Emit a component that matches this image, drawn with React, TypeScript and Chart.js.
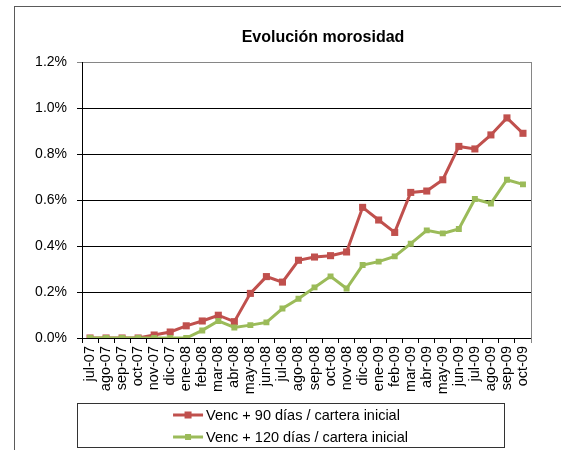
import React, { useEffect, useRef } from "react";
import { Chart, registerables } from "chart.js";

Chart.register(...registerables);

const categories = [
  "jul-07", "ago-07", "sep-07", "oct-07", "nov-07", "dic-07",
  "ene-08", "feb-08", "mar-08", "abr-08", "may-08", "jun-08",
  "jul-08", "ago-08", "sep-08", "oct-08", "nov-08", "dic-08",
  "ene-09", "feb-09", "mar-09", "abr-09", "may-09", "jun-09",
  "jul-09", "ago-09", "sep-09", "oct-09",
];

// values in percent
const venc90 = [
  0.0, 0.0, 0.0, 0.0, 0.013, 0.026,
  0.053, 0.074, 0.099, 0.071, 0.194, 0.267,
  0.243, 0.338, 0.352, 0.358, 0.374, 0.568,
  0.513, 0.459, 0.633, 0.639, 0.688, 0.833,
  0.822, 0.883, 0.957, 0.89,
];

const venc120 = [
  0.0, 0.0, 0.0, 0.0, 0.0, 0.0,
  0.0, 0.033, 0.074, 0.046, 0.056, 0.068,
  0.128, 0.171, 0.22, 0.268, 0.215, 0.317,
  0.332, 0.355, 0.41, 0.468, 0.455, 0.474,
  0.604, 0.585, 0.688, 0.668,
];

const seriesLabels = [
  "Venc + 90 días / cartera inicial",
  "Venc + 120 días / cartera inicial",
];
const titleText = "Evolución morosidad";
const yMax = 1.2;
const yStep = 0.2;

const RED = "#C0504D";
const GREEN = "#9BBB59";
const FONT = "'Liberation Sans', Arial, sans-serif";

const framePlugin = {
  id: "frame",
  beforeDraw(chart: any) {
    const ctx = chart.ctx;
    ctx.save();
    ctx.strokeStyle = "#5a5a5a";
    ctx.lineWidth = 1;
    ctx.strokeRect(14.5, 6.5, 800, 800);
    ctx.restore();
  },
  afterDraw(chart: any) {
    const ctx = chart.ctx;
    const a = chart.chartArea;
    ctx.save();
    // right plot border
    ctx.strokeStyle = "#868686";
    ctx.lineWidth = 1;
    ctx.beginPath();
    ctx.moveTo(Math.round(a.right) + 0.5, a.top);
    ctx.lineTo(Math.round(a.right) + 0.5, a.bottom + 5);
    ctx.stroke();

    // title
    ctx.fillStyle = "#000";
    ctx.font = `bold 16px ${FONT}`;
    ctx.textAlign = "center";
    ctx.textBaseline = "middle";
    ctx.fillText(titleText, 323, 38);

    // legend
    const boxL = 77, boxT = 403, boxW = 427, boxH = 44;
    ctx.strokeStyle = "#333";
    ctx.strokeRect(boxL + 0.5, boxT + 0.5, boxW, boxH);
    ctx.font = `14.5px ${FONT}`;
    ctx.textAlign = "left";
    const widths = chart.data.datasets.map((d: any) => ctx.measureText(d.label).width);
    const maxW = Math.max(...widths) + 33;
    const x0 = boxL + boxW / 2 - maxW / 2;
    chart.data.datasets.forEach((d: any, i: number) => {
      const y = boxT + 12 + i * 22;
      ctx.strokeStyle = d.borderColor;
      ctx.lineWidth = 3;
      ctx.beginPath();
      ctx.moveTo(x0, y);
      ctx.lineTo(x0 + 30, y);
      ctx.stroke();
      ctx.fillStyle = d.borderColor;
      const s = i === 0 ? 7 : 6;
      ctx.fillRect(x0 + 15 - s / 2, y - s / 2, s, s);
      ctx.fillStyle = "#000";
      ctx.fillText(d.label, x0 + 33, y + 1);
    });
    ctx.restore();
  },
};

export default function App() {
  const ref = useRef<HTMLCanvasElement | null>(null);

  useEffect(() => {
    if (!ref.current) return;
    const chart = new Chart(ref.current, {
      type: "line",
      data: {
        labels: categories,
        datasets: [
          {
            label: seriesLabels[0],
            data: venc90,
            borderColor: RED,
            backgroundColor: RED,
            borderWidth: 3,
            pointStyle: "rect",
            pointRadius: 5,
            pointBorderWidth: 0,
            tension: 0,
            order: 1,
          },
          {
            label: seriesLabels[1],
            data: venc120,
            borderColor: GREEN,
            backgroundColor: GREEN,
            borderWidth: 3,
            pointStyle: "rect",
            pointRadius: 4.2,
            pointBorderWidth: 0,
            tension: 0,
            order: 0,
          },
        ],
      },
      options: {
        animation: false,
        responsive: false,
        maintainAspectRatio: false,
        layout: { padding: { top: 62, left: 0, right: 30, bottom: 47 } },
        plugins: {
          legend: { display: false },
          title: { display: false },
          tooltip: { enabled: false },
        },
        scales: {
          x: {
            type: "category",
            offset: true,
            afterFit: (s: any) => { s.height = 65; },
            grid: {
              offset: true,
              drawOnChartArea: false,
              drawTicks: true,
              tickLength: 5,
              color: "#000",
            },
            border: { display: true, color: "#000", width: 1 },
            ticks: {
              minRotation: 90,
              maxRotation: 90,
              autoSkip: false,
              padding: 3,
              color: "#000",
              font: { family: FONT, size: 14.5 },
            },
          },
          y: {
            min: 0,
            max: yMax,
            afterFit: (s: any) => { s.width = 82; },
            ticks: {
              stepSize: yStep,
              padding: 10,
              color: "#000",
              font: { family: FONT, size: 14 },
              callback: (v: any) => Number(v).toFixed(1) + "%",
            },
            grid: {
              tickLength: 5,
              color: (c: any) => (c.index === Math.round(yMax / yStep) ? "#868686" : "#000"),
            },
            border: { display: true, color: "#000", width: 1 },
          },
        },
      },
      plugins: [framePlugin],
    });
    return () => chart.destroy();
  }, []);

  return (
    <div style={{ position: "absolute", left: 0, top: 0, width: 561, height: 450 }}>
      <canvas ref={ref} width={561} height={450} style={{ width: 561, height: 450 }} />
    </div>
  );
}
